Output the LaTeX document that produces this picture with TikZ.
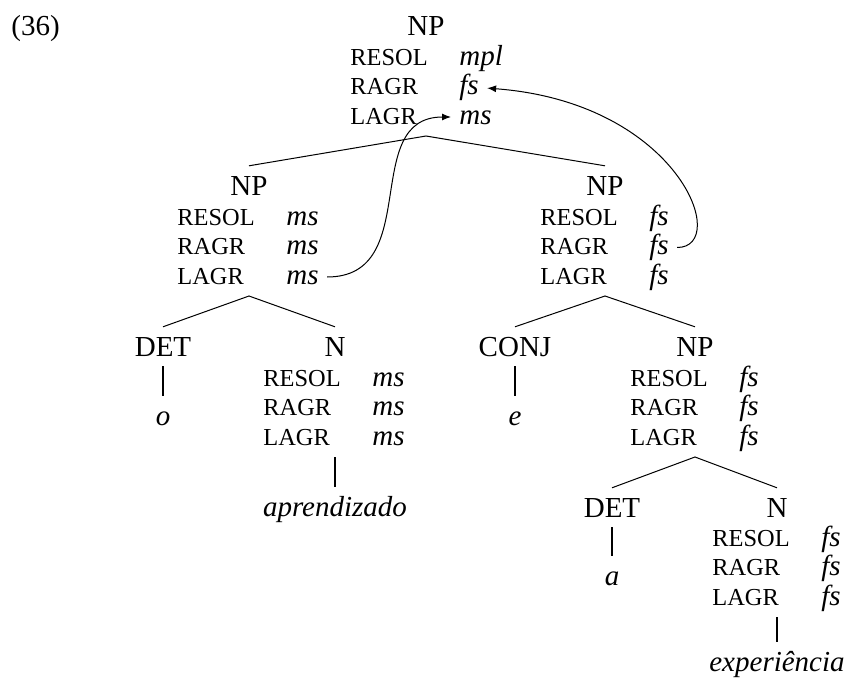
\documentclass[tikz,border=0pt]{standalone}
\usepackage{fontspec}
\setmainfont{Liberation Serif}
\usetikzlibrary{arrows.meta}

% feature block: name, x, y (baseline of first row), three values
\newcommand{\avm}[6]{%
  \node[feat] (#1-k1) at (#2,#3)      {RESOL};
  \node[feat] (#1-k2) at (#2,#3+29.5) {RAGR};
  \node[feat] (#1-k3) at (#2,#3+59)   {LAGR};
  \node[val]  (#1-v1) at (#2+109,#3)      {#4};
  \node[val]  (#1-v2) at (#2+109,#3+29.5) {#5};
  \node[val]  (#1-v3) at (#2+109,#3+59)   {#6};
}

\begin{document}
\begin{tikzpicture}[x=0.5pt, y=-0.5pt,
  cat/.style={font=\fontsize{14.5}{17}\selectfont, anchor=base, inner sep=0pt, text height=9.6pt, text depth=0pt, outer ysep=5pt},
  leaf/.style={font=\fontsize{14.5}{17}\selectfont\itshape, anchor=base, inner sep=0pt, text height=6.5pt, text depth=0pt, outer ysep=8pt},
  feat/.style={font=\fontsize{12.2}{14}\selectfont, anchor=base west, inner sep=0pt, text depth=0pt, outer ysep=6pt},
  val/.style={font=\fontsize{14.5}{17}\selectfont\itshape, anchor=base west, inner sep=0pt, text height=7pt, text depth=0pt},
  branch/.style={line width=0.5pt},
  bar/.style={line width=1pt},
  link/.style={line width=0.5pt, -{Latex[length=4.5pt,width=3.5pt]}, shorten <=4pt, shorten >=4pt}]
\useasboundingbox (0,0) rectangle (848,680);

\node[anchor=base west, inner sep=0pt, font=\fontsize{14.5}{17}\selectfont] (exno) at (11,35) {(36)};

% categories
\node[cat] (top)  at (426,35)  {NP};
\node[cat] (npL)  at (249,195) {NP};
\node[cat] (npR)  at (605,195) {NP};
\node[cat] (detL) at (163,356) {DET};
\node[cat] (nL)   at (335,356) {N};
\node[cat] (conj) at (515,356) {CONJ};
\node[cat] (npRR) at (695,356) {NP};
\node[cat] (detR) at (612,517) {DET};
\node[cat] (nRR)  at (777,517) {N};

% features
\avm{top}{350}{65}{mpl}{fs}{ms}
\avm{npL}{177}{225}{ms}{ms}{ms}
\avm{npR}{540}{225}{fs}{fs}{fs}
\avm{nL}{263}{386}{ms}{ms}{ms}
\avm{npRR}{630}{386}{fs}{fs}{fs}
\avm{nRR}{712}{546}{fs}{fs}{fs}

% words
\node[leaf] (o)    at (163,425) {o};
\node[leaf] (apr)  at (335,516) {aprendizado};
\node[leaf] (e)    at (515,425) {e};
\node[leaf] (a)    at (612,585) {a};
\node[leaf] (exp)  at (777,671) {experiência};

% branches
\draw[branch] (npL.north) -- (top |- top-k3.south) -- (npR.north);
\draw[branch] (detL.north) -- (npL |- npL-k3.south) -- (nL.north);
\draw[branch] (conj.north) -- (npR |- npR-k3.south) -- (npRR.north);
\draw[branch] (detR.north) -- (npRR |- npRR-k3.south) -- (nRR.north);

\draw[bar] (detL.south) -- (o.north);
\draw[bar] (nL |- nL-k3.south) -- (apr.north);
\draw[bar] (conj.south) -- (e.north);
\draw[bar] (detR.south) -- (a.north);
\draw[bar] (nRR |- nRR-k3.south) -- (exp.north);

% agreement links
\draw[link] (npL-v3.east) .. controls +(105,0) and +(-100,0) .. (top-v3.west);
\draw[link] (npR-v2.east) .. controls +(62,0) and +(200,15) .. (top-v2.east);
\end{tikzpicture}
\end{document}
